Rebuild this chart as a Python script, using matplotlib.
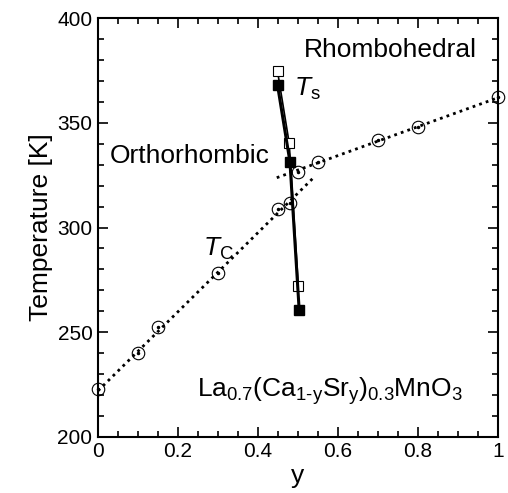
import matplotlib
matplotlib.use("Agg")
import matplotlib.pyplot as plt
from matplotlib.ticker import MultipleLocator

plt.rcParams['font.family'] = ['Liberation Sans', 'DejaVu Sans']
plt.rcParams['mathtext.fontset'] = 'custom'
plt.rcParams['mathtext.rm'] = 'Liberation Sans'
plt.rcParams['mathtext.it'] = 'Liberation Sans:italic'

# Curie temperature T_C vs Sr content y
tc_y = [0.0, 0.1, 0.15, 0.3, 0.45, 0.48, 0.5, 0.55, 0.7, 0.8, 1.0]
tc_T = [223, 240, 252.7, 278.4, 308.7, 311.9, 326.5, 331.3, 342, 348, 362.2]

# linear guides through the two T_C branches (end points)
tc_low_y = [0.0, 0.54]
tc_low_T = [222, 324]
tc_high_y = [0.447, 1.0]
tc_high_T = [323.8, 362]

# structural transition T_S: heating (open) and cooling (filled)
ts_y_open = [0.449, 0.478, 0.501]
ts_T_open = [374.6, 340.5, 272.2]
ts_y_fill = [0.449, 0.48, 0.503]
ts_T_fill = [368, 331.4, 260.8]

fig = plt.figure(figsize=(5.08, 4.93), dpi=100)
ax = fig.add_axes([0.193, 0.114, 0.787, 0.849])

ax.plot(tc_low_y, tc_low_T, color='black', lw=2, ls=(0, (1, 1.5)))
ax.plot(tc_high_y, tc_high_T, color='black', lw=2, ls=(0, (1, 1.5)))
ax.plot(tc_y, tc_T, ls='none', marker='o', ms=9, mfc='none', mec='black',
        mew=0.8, clip_on=False)
ax.plot(tc_y, tc_T, ls='none', marker='.', ms=3, color='black', clip_on=False)

ax.plot(ts_y_open, ts_T_open, color='black', lw=1.2, marker='s', ms=7,
        mfc='white', mec='black', mew=0.8)
ax.plot(ts_y_fill, ts_T_fill, color='black', lw=2.2, marker='s', ms=7,
        mfc='black', mec='black')

ax.text(0.516, 385, 'Rhombohedral', fontsize=19, va='center')
ax.text(0.03, 334, 'Orthorhombic', fontsize=19, va='center')
ax.text(0.49, 366, r'$\mathit{T}_{\mathrm{s}}$', fontsize=19, va='center')
ax.text(0.263, 290, r'$\mathit{T}_{\mathrm{C}}$', fontsize=19, va='center')
ax.text(0.248, 222, r'$\mathrm{La_{0.7}(Ca_{1\text{-}y}Sr_y)_{0.3}MnO_3}$',
        fontsize=19, va='center')

ax.set_xlim(0, 1)
ax.set_ylim(200, 400)
ax.xaxis.set_major_locator(MultipleLocator(0.2))
ax.xaxis.set_minor_locator(MultipleLocator(0.05))
ax.yaxis.set_major_locator(MultipleLocator(50))
ax.yaxis.set_minor_locator(MultipleLocator(10))
ax.set_xticks([0, 0.2, 0.4, 0.6, 0.8, 1.0])
ax.set_xticklabels(['0', '0.2', '0.4', '0.6', '0.8', '1'])
ax.tick_params(which='both', direction='in', top=True, right=True,
               labelsize=15, width=1.2)
ax.tick_params(which='major', length=7, pad=4)
ax.tick_params(which='minor', length=4)
for s in ax.spines.values():
    s.set_linewidth(1.5)

ax.set_xlabel('y', fontsize=19, labelpad=2)
ax.set_ylabel('Temperature [K]', fontsize=19, labelpad=3)

fig.savefig('out.png', dpi=100)
